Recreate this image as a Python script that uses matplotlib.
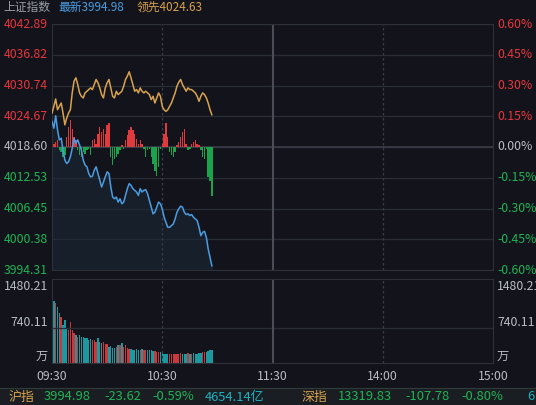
import matplotlib
matplotlib.use("Agg")
import matplotlib.pyplot as plt
import numpy as np

plt.rcParams['font.family'] = ['Noto Sans CJK SC', 'DejaVu Sans']

BG = '#13141b'
# main index line (pixel readings converted to prices)
blue_px = [185,205,168,210,240,235,270,300,310,305,290,265,235,250,240,255,270,300,315,320,340,350,348,330,320,340,360,380,365,350,335,340,380,410,415,410,425,415,430,425,405,385,370,375,385,390,395,405,385,395,390,388,400,420,440,460,455,440,425,430,445,470,485,500,500,495,490,475,455,445,437,440,455,462,460,465,462,470,475,480,500,525,515,512,530,565,590,615]
orange_px = [160,140,118,150,140,130,160,195,175,160,150,100,65,55,75,100,110,115,100,95,90,85,90,75,60,70,85,105,115,85,70,60,85,110,115,95,105,100,95,80,60,50,37,55,75,95,90,100,85,95,100,95,100,105,120,110,130,115,100,110,140,150,155,150,140,130,115,100,80,68,60,75,85,95,85,90,90,95,100,110,125,110,100,105,115,130,150,165]
diff_raw = [15,10,15,20,-10,-15,-30,-25,30,60,80,55,30,20,-10,-25,-30,-15,-20,-10,-5,-25,20,25,10,40,60,45,55,40,65,70,-30,-55,-35,-30,-20,-10,5,-5,20,35,50,60,50,40,25,10,20,10,-5,-30,-10,-5,-30,-50,-70,-85,-60,-5,10,40,70,30,-15,-25,-30,-15,5,15,30,45,55,10,-10,-5,10,15,20,10,5,-10,-30,-35,-5,-90,-100,-145]
vol_top = [30,95,100,110,130,140,165,150,175,180,155,180,190,195,200,195,200,200,205,205,210,208,210,210,215,205,215,218,215,220,222,230,228,232,232,230,225,225,218,230,225,232,235,235,238,238,236,238,238,236,238,238,240,238,240,242,242,246,246,244,248,250,250,250,252,250,252,250,252,250,248,252,250,250,249,252,250,248,250,250,248,248,245,245,245,242,240,238]

prev_close = 4018.60
price_ticks = [4042.89,4036.82,4030.74,4024.67,4018.60,4012.53,4006.45,4000.38,3994.31]
pct_labels = ['0.60%','0.45%','0.30%','0.15%','0.00%','-0.15%','-0.30%','-0.45%','-0.60%']
time_labels = ['09:30','10:30','11:30','14:00','15:00']

step = 6.07/30.5
blue = np.array([prev_close-(60+v/3-147)*step for v in blue_px])
orange = np.array([prev_close-(60+v/3-147)*step for v in orange_px])
diff = np.array(diff_raw)/3*step
vol = (278-np.array(vol_top))*7.05
x = np.arange(len(blue))

fig = plt.figure(figsize=(5.36,4.05), dpi=100, facecolor=BG)
ax = fig.add_axes([52/536, 1-270/405, 441/536, 246/405], facecolor=BG)
ax.set_xlim(0,240); ax.set_ylim(3994.31,4042.89)
for p in price_ticks:
    ax.axhline(p, color='#2a2c36', lw=0.9, zorder=0)
ax.axhline(prev_close, color='#3a3d48', lw=1.2, zorder=0)
ax.axvline(60, color='#3a3c48', lw=0.9, ls=(0,(2,2)))
ax.axvline(180, color='#3a3c48', lw=0.9, ls=(0,(2,2)))
ax.axvline(120, color='#4a4c58', lw=1.5)
ax.bar(x, diff, bottom=prev_close, width=0.75, linewidth=0,
       color=['#e0393e' if d>0 else '#1aa34a' for d in diff], zorder=2)
ax.fill_between(x, blue, 3994.31, color='#1c2a3a', alpha=0.5, zorder=1)
ax.plot(x, blue, color='#4a9be0', lw=1.1, zorder=3)
ax.plot(x, orange, color='#d9a24e', lw=1.1, zorder=3)
ax.set_xticks([]); ax.set_yticks([])
for s in ax.spines.values(): s.set_color('#2e3039')
for i,(p,l) in enumerate(zip(price_ticks,pct_labels)):
    c = '#e8363c' if p>prev_close+0.01 else ('#b8bcc4' if abs(p-prev_close)<0.01 else '#1fb455')
    y = 1-(24+i*30.75)/405
    fig.text(48/536, y, f'{p:.2f}', color=c, fontsize=8.8, ha='right', va='center')
    fig.text(497/536, y, l, color=c, fontsize=8.8, ha='left', va='center')

axv = fig.add_axes([52/536, 1-363/405, 441/536, 84/405], facecolor=BG)
axv.set_xlim(0,240); axv.set_ylim(0,1762)
axv.axhline(740.11, color='#2a2c36', lw=0.9)
axv.axvline(60, color='#3a3c48', lw=0.9, ls=(0,(2,2)))
axv.axvline(180, color='#3a3c48', lw=0.9, ls=(0,(2,2)))
axv.axvline(120, color='#4a4c58', lw=1.5)
bclr = ['#1a9aa0'] + ['#c8383c' if blue[i]>=blue[i-1] else '#1a9aa0' for i in range(1,len(blue))]
axv.bar(x, vol, width=0.75, linewidth=0, color=bclr)
axv.set_xticks([]); axv.set_yticks([])
for s in axv.spines.values(): s.set_color('#2e3039')
for yy,t in [(287,'1480.21'),(322,'740.11'),(356,'万')]:
    fig.text(48/536, 1-yy/405, t, color='#b8bcc4', fontsize=8.8, ha='right', va='center')
    fig.text(497/536, 1-yy/405, t, color='#b8bcc4', fontsize=8.8, ha='left', va='center')
for t,xp in zip(time_labels,[52,162,272,382,493]):
    fig.text(xp/536, 1-376/405, t, color='#b8bcc4', fontsize=8.8, ha='center', va='center')

# header
fig.text(3/536, 1-7/405, '上证指数', color='#9a9ea8', fontsize=8.5, va='center')
fig.text(58/536, 1-7/405, '最新3994.98', color='#4a9be0', fontsize=8.5, va='center')
fig.text(137/536, 1-7/405, '领先4024.63', color='#d9a24e', fontsize=8.5, va='center')

# bottom ticker bar
fig.add_artist(plt.Rectangle((0,0),1,17/405, transform=fig.transFigure, color='#1a1e22', zorder=0))
fig.add_artist(plt.Line2D([0,1],[17/405,17/405], transform=fig.transFigure, color='#2f3a3a', lw=0.8))
yb = 1-397/405
items = [(8,'沪指','#d9a24e'),(44,'3994.98','#1fb455'),(104,'-23.62','#1fb455'),(152,'-0.59%','#1fb455'),(205,'4654.14亿','#1fb0c0'),(302,'深指','#d9a24e'),(338,'13319.83','#1fb455'),(405,'-107.78','#1fb455'),(461,'-0.80%','#1fb455'),(527,'6','#1fb0c0')]
for xp,t,c in items:
    fig.text(xp/536, yb, t, color=c, fontsize=9.3, va='center')

fig.savefig('out.png', dpi=100, facecolor=BG)
